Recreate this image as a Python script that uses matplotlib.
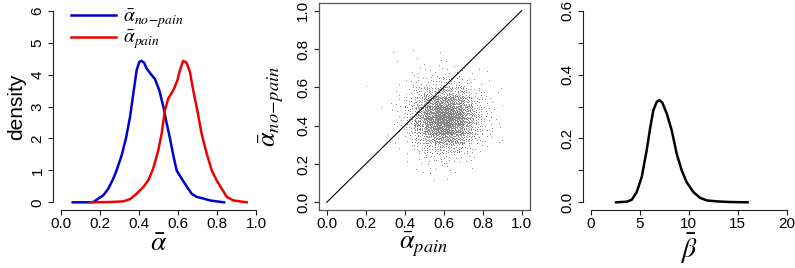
import numpy as np
import matplotlib
matplotlib.use("Agg")
import matplotlib.pyplot as plt

plt.rcParams['font.family'] = ['Liberation Sans', 'DejaVu Sans']
plt.rcParams['mathtext.fontset'] = 'stix'

# ---- Panel 1: density of alpha ----
nopain_x = [0.060, 0.132, 0.166, 0.191, 0.217, 0.243, 0.268, 0.285, 0.311, 0.333, 0.354,
            0.371, 0.388, 0.402, 0.413, 0.426, 0.439, 0.465, 0.482, 0.504, 0.525, 0.542,
            0.559, 0.576, 0.593, 0.619, 0.644, 0.670, 0.696, 0.730, 0.764, 0.798, 0.836]
nopain_y = [0.0, 0.0, 0.01, 0.115, 0.22, 0.43, 0.74, 1.0, 1.47, 2.0, 2.67,
            3.41, 4.14, 4.40, 4.43, 4.37, 4.19, 3.98, 3.86, 3.51, 2.99, 2.47,
            2.0, 1.47, 1.0, 0.74, 0.50, 0.27, 0.17, 0.12, 0.06, 0.03, 0.0]
pain_x = [0.149, 0.251, 0.320, 0.354, 0.388, 0.422, 0.448, 0.473, 0.499, 0.516, 0.533,
          0.550, 0.576, 0.597, 0.610, 0.627, 0.644, 0.661, 0.678, 0.699, 0.721, 0.747,
          0.773, 0.798, 0.824, 0.850, 0.884, 0.918, 0.952]
pain_y = [0.0, 0.01, 0.03, 0.10, 0.27, 0.48, 0.69, 1.06, 1.63, 2.15, 2.88,
          3.25, 3.51, 3.82, 4.14, 4.43, 4.37, 4.09, 3.51, 2.88, 2.15, 1.53,
          1.0, 0.69, 0.43, 0.17, 0.06, 0.03, 0.0]

# ---- Panel 2: scatter, read as counts per 0.05 x 0.05 cell ----
grid_x_edges = [0.30, 0.35, 0.40, 0.45, 0.50, 0.55, 0.60, 0.65, 0.70, 0.75, 0.80, 0.85, 0.90]
grid_y_edges = [0.75, 0.70, 0.65, 0.60, 0.55, 0.50, 0.45, 0.40, 0.35, 0.30, 0.25, 0.20, 0.15]
grid_counts = [
    [0, 0, 0, 1, 1, 2, 1, 1, 0, 0, 0, 0],
    [0, 0, 1, 2, 3, 3, 3, 3, 2, 1, 0, 0],
    [0, 1, 3, 5, 8, 10, 10, 8, 5, 2, 1, 0],
    [0, 2, 5, 12, 23, 32, 33, 24, 14, 6, 2, 1],
    [1, 3, 9, 24, 48, 70, 72, 54, 29, 11, 4, 1],
    [1, 3, 12, 36, 75, 110, 114, 83, 44, 17, 5, 1],
    [1, 4, 14, 41, 83, 122, 126, 93, 48, 18, 6, 2],
    [1, 3, 11, 32, 65, 95, 98, 72, 38, 14, 5, 1],
    [1, 2, 6, 18, 36, 54, 54, 41, 21, 8, 3, 1],
    [0, 1, 3, 8, 15, 21, 21, 17, 9, 3, 1, 0],
    [0, 0, 1, 3, 5, 6, 6, 5, 3, 1, 0, 0],
    [0, 0, 0, 1, 2, 2, 2, 1, 1, 0, 0, 0],
    [0, 0, 0, 0, 1, 0, 1, 0, 0, 0, 0, 0],
]
outlier_x = [0.20, 0.28, 0.34, 0.44, 0.55, 0.58, 0.90, 0.88, 0.82, 0.46, 0.36, 0.45]
outlier_y = [0.60, 0.49, 0.78, 0.79, 0.11, 0.78, 0.32, 0.57, 0.68, 0.17, 0.73, 0.66]

# ---- Panel 3: density of beta ----
beta_x = [2.56, 3.65, 4.16, 4.67, 5.18, 5.69, 6.03, 6.37, 6.71, 6.99, 7.29, 7.74, 8.25,
          8.76, 9.27, 9.78, 10.46, 11.15, 11.83, 12.85, 14.2, 16.0]
beta_y = [0.0, 0.002, 0.008, 0.032, 0.079, 0.163, 0.230, 0.288, 0.314, 0.320, 0.312, 0.278,
          0.225, 0.152, 0.100, 0.063, 0.032, 0.014, 0.006, 0.003, 0.001, 0.0]

W, H = 795, 268
fig = plt.figure(figsize=(W / 100, H / 100), dpi=100)


def add_ax(l, r, t, b):
    return fig.add_axes([l / W, 1 - b / H, (r - l) / W, (b - t) / H])


axcol = '#222222'
tick_kw = dict(length=3.8, width=0.8, color=axcol, labelsize=11, pad=1.5)


def r_axes(ax, xlim, ylim, xticks, yticks, xtl, ytl):
    ax.set_xlim(xlim)
    ax.set_ylim(ylim)
    for s in ['top', 'right']:
        ax.spines[s].set_visible(False)
    ax.spines['left'].set_bounds(yticks[0], yticks[-1])
    ax.spines['bottom'].set_bounds(xticks[0], xticks[-1])
    for s in ['left', 'bottom']:
        ax.spines[s].set_color(axcol)
        ax.spines[s].set_linewidth(0.8)
    ax.set_xticks(xticks)
    ax.set_xticklabels(xtl)
    ax.set_yticks(yticks)
    ax.set_yticklabels(ytl, rotation=90, va='center')
    ax.tick_params(axis='both', **tick_kw)
    ax.tick_params(axis='y', pad=2.5)


# Panel 1
ax1 = add_ax(53.2, 263.8, 3, 210)
ax1.plot(nopain_x, nopain_y, color='#0000cc', lw=1.8, label=r'$\bar{\alpha}_{no\!-\!pain}$',
         solid_joinstyle='round')
ax1.plot(pain_x, pain_y, color='#ee0000', lw=1.8, label=r'$\bar{\alpha}_{pain}$',
         solid_joinstyle='round')
r_axes(ax1, (-0.04, 1.04), (-0.24, 6.24), [0, 0.2, 0.4, 0.6, 0.8, 1.0], [0, 1, 2, 3, 4, 5, 6],
       ['0.0', '0.2', '0.4', '0.6', '0.8', '1.0'], ['0', '1', '2', '3', '4', '5', '6'])
ax1.set_xlabel(r'$\bar{\alpha}$', fontsize=20, labelpad=0)
ax1.set_ylabel('density', fontsize=15, labelpad=3)
ax1.legend(loc='upper left', bbox_to_anchor=(0.02, 1.045), frameon=False, fontsize=14,
           handlelength=2.3, handletextpad=0.35, labelspacing=-0.05, borderpad=0.2)

# Panel 2
ax2 = add_ax(318.9, 529.5, 3, 210)
g = 1.32471795724474602596
a1, a2 = 1 / g, 1 / (g * g)
sx, sy = [], []
k = 0
for ri, row in enumerate(grid_counts):
    ytop = grid_y_edges[ri]
    for ci, n in enumerate(row):
        x0 = grid_x_edges[ci]
        for i in range(n):
            k += 1
            sx.append(x0 + 0.05 * ((0.5 + a1 * k) % 1))
            sy.append(ytop - 0.05 * ((0.5 + a2 * k) % 1))
sx += outlier_x
sy += outlier_y
ax2.plot(sx, sy, ',', color='#8c8c8c')
ax2.plot([0, 1], [0, 1], color='black', lw=0.8)
ax2.set_xlim(-0.04, 1.04)
ax2.set_ylim(-0.04, 1.04)
ticks = [0, 0.2, 0.4, 0.6, 0.8, 1.0]
tl = ['0.0', '0.2', '0.4', '0.6', '0.8', '1.0']
ax2.set_xticks(ticks)
ax2.set_xticklabels(tl)
ax2.set_yticks(ticks)
ax2.set_yticklabels(tl, rotation=90, va='center')
ax2.tick_params(axis='both', **tick_kw)
ax2.tick_params(axis='y', pad=2.5)
for s in ax2.spines.values():
    s.set_color('#555555')
    s.set_linewidth(0.9)
ax2.set_xlabel(r'$\bar{\alpha}_{pain}$', fontsize=19, labelpad=-1)
ax2.set_ylabel(r'$\bar{\alpha}_{no\!-\!pain}$', fontsize=19)
ax2.yaxis.set_label_coords(-0.16, 0.5)

# Panel 3
ax3 = add_ax(583.2, 794.5, 3, 210)
ax3.plot(beta_x, beta_y, color='black', lw=1.8, solid_joinstyle='round')
r_axes(ax3, (-0.8, 20.8), (-0.024, 0.624), [0, 5, 10, 15, 20], [0, 0.1, 0.2, 0.3, 0.4, 0.5, 0.6],
       ['0', '5', '10', '15', '20'], ['0.0', '', '0.2', '', '0.4', '', '0.6'])
ax3.set_xlabel(r'$\bar{\beta}$', fontsize=20, labelpad=0)

fig.savefig('out.png', dpi=100)
